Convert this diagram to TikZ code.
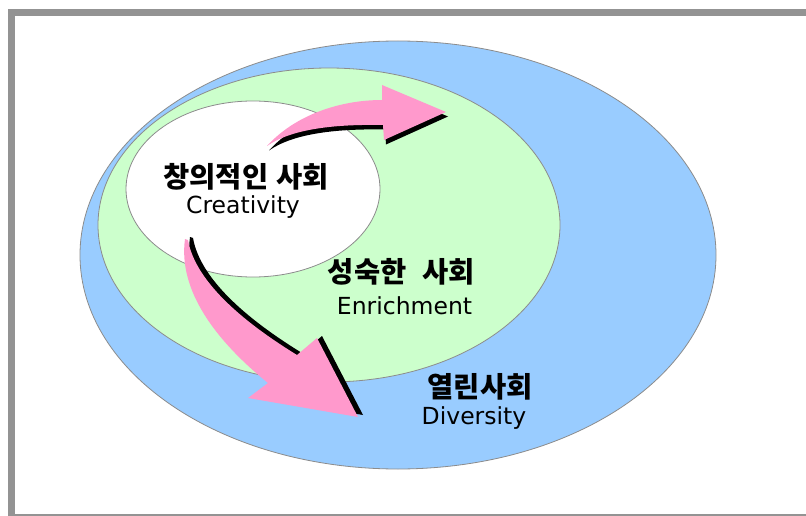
\documentclass[tikz,border=0pt]{standalone}
\usepackage{fontspec}
\newfontfamily\kr{Noto Sans CJK KR}
\newfontfamily\en{DejaVu Sans}
\usetikzlibrary{shapes.geometric}
\definecolor{frameg}{HTML}{939393}
\definecolor{skyb}{HTML}{99CCFF}
\definecolor{mint}{HTML}{CCFFCC}
\definecolor{pinkarrow}{HTML}{FF99CC}
\definecolor{rimg}{HTML}{8C8C8C}
\tikzset{
  oval/.style={shape=ellipse, draw=rimg, line width=0.8pt, inner sep=0pt},
  krlabel/.style={font=\kr\bfseries\fontsize{28.5}{32}\selectfont, inner sep=0pt, anchor=base},
  enlabel/.style={font=\en\fontsize{23.5}{27}\selectfont, inner sep=0pt, anchor=base},
  arrowbody/.style={fill=pinkarrow},
  arrowshade/.style={fill=black}
}
\begin{document}
\begin{tikzpicture}[x=1pt,y=-1pt]
\useasboundingbox (0,0) rectangle (806,516);
\clip (0,0) rectangle (806,516);
\fill[white] (0,0) rectangle (806,516);
\draw[frameg, line width=7pt] (11.5,13) rectangle (830,517);
% ellipses
\node[oval, fill=skyb, minimum width=636pt, minimum height=428pt] (open) at (398,255) {};
\node[oval, fill=mint, minimum width=462pt, minimum height=314pt] (mature) at (329,225) {};
\node[oval, fill=white, minimum width=254pt, minimum height=176pt] (creative) at (253,189) {};
% arrow 1 (to the right)
\begin{scope}[shift={(2,4.5)}]
\path[arrowshade] (267,146) .. controls (295,115) and (340,100) .. (382,100) -- (382,85) -- (446,112) -- (384,140) -- (383,125) .. controls (330,124) and (290,130) .. (267,146) -- cycle;
\end{scope}
\path[arrowbody] (267,146) .. controls (295,115) and (340,100) .. (382,100) -- (382,85) -- (446,112) -- (384,140) -- (383,125) .. controls (330,124) and (290,130) .. (267,146) -- cycle;
% arrow 2 (downwards)
\begin{scope}[shift={(5,-2)}]
\path[arrowshade] (185,239) .. controls (178,290) and (215,340) .. (268,383) -- (248,398) -- (358,417) -- (317,338) -- (297,355) .. controls (240,320) and (195,280) .. (188,240) -- cycle;
\end{scope}
\path[arrowbody] (185,239) .. controls (178,290) and (215,340) .. (268,383) -- (248,398) -- (358,417) -- (317,338) -- (297,355) .. controls (240,320) and (195,280) .. (188,240) -- cycle;
% labels
\node[krlabel] (t1) at (246,187) {창의적인\hspace{8pt}사회};
\node[enlabel] (e1) at (243,213) {Creativity};
\node[krlabel] (t2) at (401.5,282) {성숙한\hspace{16pt}사회};
\node[enlabel] (e2) at (404.5,314) {Enrichment};
\node[krlabel] (t3) at (480,397) {열린사회};
\node[enlabel] (e3) at (474,424) {Diversity};
\end{tikzpicture}
\end{document}
